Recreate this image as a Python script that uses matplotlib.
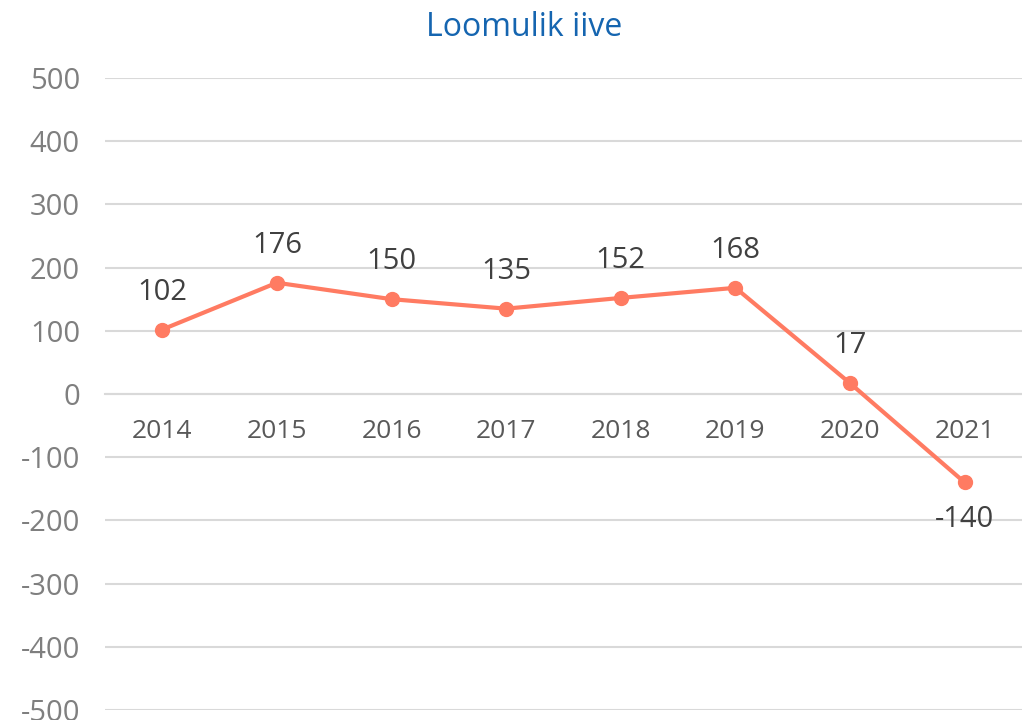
import matplotlib.pyplot as plt

# data
years = ["2014", "2015", "2016", "2017", "2018", "2019", "2020", "2021"]
values = [102, 176, 150, 135, 152, 168, 17, -140]
yticks = [-500, -400, -300, -200, -100, 0, 100, 200, 300, 400, 500]

line_color = "#FF7B62"
grid_color = "#D9D9D9"

plt.rcParams['font.family'] = ['Open Sans', 'DejaVu Sans']

fig = plt.figure(figsize=(10.22, 7.2), dpi=100)
ax = fig.add_axes([0.1027, 0.0139, 0.8973, 0.8778])

x = list(range(len(years)))
ax.plot(x, values, color=line_color, lw=3, marker="o", markersize=10, zorder=3,
        solid_capstyle="round")

# data labels
for xi, v in zip(x, values):
    dy = 27 if v >= 0 else -27
    ax.annotate(str(v), (xi, v), xytext=(0, dy), textcoords="offset points",
                ha="center", va="center", fontsize=21, color="#404040")

ax.set_xlim(-0.5, len(years) - 0.5)
ax.set_ylim(-500, 500)
ax.set_yticks(yticks)
ax.set_yticklabels([str(t) for t in yticks])
ax.grid(axis="y", color=grid_color, lw=1.5)
ax.set_axisbelow(True)

for s in ["top", "right", "left"]:
    ax.spines[s].set_visible(False)
ax.spines["bottom"].set_position(("data", 0))
ax.spines["bottom"].set_color(grid_color)
ax.spines["bottom"].set_linewidth(1.5)

ax.set_xticks(x)
ax.set_xticklabels(years)
ax.tick_params(axis="x", length=0, pad=18, labelsize=19, labelcolor="#595959")
ax.tick_params(axis="y", length=0, pad=18, labelsize=21, labelcolor="#7F7F7F")

fig.suptitle("Loomulik iive", x=0.513, y=0.985, va="top", fontsize=23, color="#1565B0")

fig.savefig("out.png", dpi=100)
